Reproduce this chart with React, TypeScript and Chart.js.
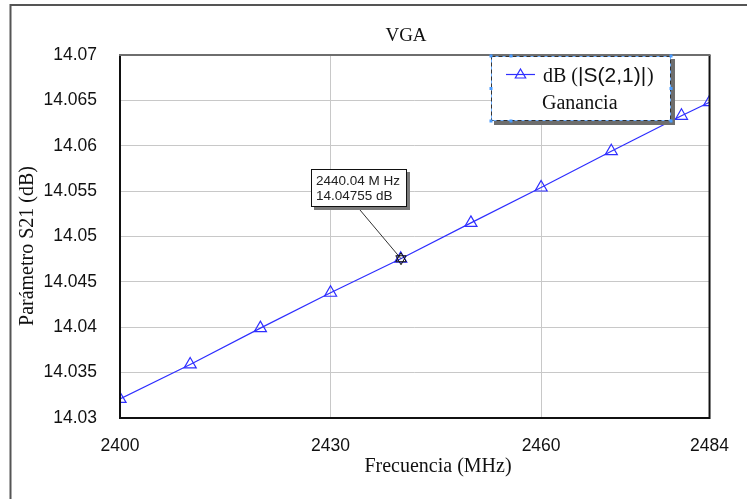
import React, { useEffect, useRef } from "react";
import { Chart, registerables } from "chart.js";

Chart.register(...registerables);

// ---- data ----
const frequencies = [2400, 2410, 2420, 2430, 2440, 2450, 2460, 2470, 2480, 2484];
const s21Values = [14.0321, 14.0359, 14.0399, 14.0438, 14.04755, 14.0515, 14.0554, 14.0594, 14.0633, 14.0648];
const xTickValues = [2400, 2430, 2460, 2484];
const yMin = 14.03;
const yMax = 14.07;
const yStep = 0.005;
const chartTitle = "VGA";
const xTitle = "Frecuencia (MHz)";
const yTitle = "Parámetro S21 (dB)";
const legendUnit = "dB (";
const legendMeasure = "|S(2,1)|";
const legendClose = ")";
const legendGraph = "Ganancia";
const markerFreq = 2440.04;
const markerValue = 14.04755;

const SERIF = "'Liberation Serif','Times New Roman',serif";
const SANS = "'Liberation Sans',Arial,sans-serif";
const TRACE = "#2f2fff";

function drawTriangle(ctx: CanvasRenderingContext2D, x: number, y: number, r: number) {
  ctx.beginPath();
  for (let i = 0; i < 3; i++) {
    const a = (i * 2 * Math.PI) / 3;
    const px = x + Math.sin(a) * r;
    const py = y - Math.cos(a) * r;
    if (i === 0) ctx.moveTo(px, py);
    else ctx.lineTo(px, py);
  }
  ctx.closePath();
  ctx.stroke();
}

const decorPlugin = {
  id: "decor",
  beforeDraw(chart: any) {
    const ctx = chart.ctx as CanvasRenderingContext2D;
    ctx.save();
    ctx.fillStyle = "#ffffff";
    ctx.fillRect(0, 0, chart.width, chart.height);
    ctx.restore();
  },
  afterDraw(chart: any) {
    const ctx = chart.ctx as CanvasRenderingContext2D;
    const { left, right, top, bottom } = chart.chartArea;
    const xs = chart.scales.x;
    const ys = chart.scales.y;
    ctx.save();

    // outer frame
    ctx.strokeStyle = "#555555";
    ctx.lineWidth = 2;
    ctx.beginPath();
    ctx.moveTo(10.5, chart.height + 2);
    ctx.lineTo(10.5, 5);
    ctx.lineTo(chart.width + 2, 5);
    ctx.stroke();

    // plot border
    ctx.strokeStyle = "#111111";
    ctx.lineWidth = 2;
    ctx.beginPath();
    ctx.moveTo(left, top);
    ctx.lineTo(left, bottom);
    ctx.lineTo(right, bottom);
    ctx.lineTo(right, top);
    ctx.stroke();
    ctx.strokeStyle = "#6e6e6e";
    ctx.beginPath();
    ctx.moveTo(left - 1, top);
    ctx.lineTo(right + 1, top);
    ctx.stroke();

    // titles
    ctx.fillStyle = "#111111";
    ctx.textAlign = "center";
    ctx.textBaseline = "alphabetic";
    ctx.font = `19px ${SERIF}`;
    ctx.fillText(chartTitle, 406, 41);
    ctx.font = `20px ${SERIF}`;
    ctx.fillText(xTitle, 438, 472);
    ctx.save();
    ctx.translate(33, 246);
    ctx.rotate(-Math.PI / 2);
    ctx.fillText(yTitle, 0, 0);
    ctx.restore();

    // legend box
    const lx = 491, ly = 56, lw = 180, lh = 65;
    ctx.fillStyle = "#6e6e6e";
    ctx.fillRect(lx + 3, ly + 3, lw + 1, lh + 1);
    ctx.fillStyle = "#ffffff";
    ctx.fillRect(lx, ly, lw, lh);
    ctx.lineWidth = 1;
    ctx.strokeStyle = "#6fb0ff";
    ctx.strokeRect(lx + 0.5, ly + 0.5, lw - 1, lh - 1);
    ctx.strokeStyle = "#333333";
    ctx.setLineDash([4, 3]);
    ctx.strokeRect(lx + 0.5, ly + 0.5, lw - 1, lh - 1);
    ctx.setLineDash([]);
    ctx.fillStyle = "#4a9cff";
    const handles = [
      [lx, ly], [lx + 20, ly], [lx + lw, ly],
      [lx, ly + lh / 2], [lx + lw, ly + lh / 2],
      [lx, ly + lh], [lx + 20, ly + lh], [lx + lw, ly + lh],
    ];
    handles.forEach(([hx, hy]) => ctx.fillRect(hx - 1.5, hy - 1.5, 3, 3));

    // legend content
    ctx.strokeStyle = TRACE;
    ctx.lineWidth = 1.2;
    ctx.beginPath();
    ctx.moveTo(506, 74.5);
    ctx.lineTo(535, 74.5);
    ctx.stroke();
    drawTriangle(ctx, 520.5, 75, 6);
    ctx.fillStyle = "#111111";
    ctx.textAlign = "left";
    ctx.font = `20px ${SERIF}`;
    let tx = 543;
    ctx.fillText(legendUnit, tx, 82);
    tx += ctx.measureText(legendUnit).width;
    ctx.font = `21px ${SANS}`;
    ctx.fillText(legendMeasure, tx, 82);
    tx += ctx.measureText(legendMeasure).width;
    ctx.font = `20px ${SERIF}`;
    ctx.fillText(legendClose, tx + 1, 82);
    ctx.fillText(legendGraph, 542, 109);

    // marker annotation
    const px = xs.getPixelForValue(markerFreq);
    const py = ys.getPixelForValue(markerValue);
    const bx = Math.round(px - 90), by = Math.round(py - 90), bw = 96, bh = 38;
    ctx.strokeStyle = "#333333";
    ctx.lineWidth = 1;
    ctx.beginPath();
    ctx.moveTo(px - 41, by + bh + 3);
    ctx.lineTo(px, py);
    ctx.stroke();
    ctx.fillStyle = "#7a7a7a";
    ctx.fillRect(bx + 3, by + 3, bw, bh);
    ctx.fillStyle = "#ffffff";
    ctx.fillRect(bx, by, bw, bh);
    ctx.strokeStyle = "#111111";
    ctx.strokeRect(bx + 0.5, by + 0.5, bw - 1, bh - 1);
    ctx.fillStyle = "#222222";
    ctx.font = `13.5px ${SANS}`;
    ctx.textBaseline = "middle";
    ctx.fillText(`${markerFreq.toFixed(2)} M Hz`, bx + 5, by + 12);
    ctx.fillText(`${markerValue.toFixed(5)} dB`, bx + 5, by + 27);
    // star marker
    ctx.strokeStyle = "#111111";
    ctx.beginPath();
    for (let k = 0; k < 2; k++) {
      for (let i = 0; i < 3; i++) {
        const a = (i * 2 * Math.PI) / 3 + k * Math.PI;
        const qx = px + Math.sin(a) * 6;
        const qy = py - Math.cos(a) * 6;
        if (i === 0) ctx.moveTo(qx, qy);
        else ctx.lineTo(qx, qy);
      }
      ctx.closePath();
    }
    ctx.stroke();

    ctx.restore();
  },
};

export default function App() {
  const canvasRef = useRef<HTMLCanvasElement | null>(null);

  useEffect(() => {
    const canvas = canvasRef.current;
    if (!canvas) return;
    const chart = new Chart(canvas, {
      type: "line",
      data: {
        datasets: [
          {
            label: legendMeasure,
            data: frequencies.map((f, i) => ({ x: f, y: s21Values[i] })),
            borderColor: TRACE,
            borderWidth: 1.2,
            pointStyle: "triangle",
            pointRadius: 7,
            pointBorderColor: TRACE,
            pointBackgroundColor: "rgba(0,0,0,0)",
            pointBorderWidth: 1.2,
            tension: 0,
            clip: 0,
          } as any,
        ],
      },
      options: {
        animation: false,
        responsive: false,
        devicePixelRatio: 1,
        layout: { padding: { left: 0, top: 55, right: 36, bottom: 0 } },
        plugins: {
          legend: { display: false },
          title: { display: false },
          tooltip: { enabled: false },
        },
        scales: {
          x: {
            type: "linear",
            min: frequencies[0],
            max: xTickValues[xTickValues.length - 1],
            afterBuildTicks: (scale: any) => {
              scale.ticks = xTickValues.map((v) => ({ value: v }));
            },
            afterFit: (scale: any) => {
              scale.height = 81;
            },
            grid: { color: "#c8c8c8", lineWidth: 1, drawTicks: false },
            border: { display: false },
            ticks: {
              autoSkip: false,
              maxRotation: 0,
              padding: 18,
              color: "#111111",
              font: { family: SANS, size: 17.5 },
              callback: (v: any) => String(v),
            },
          },
          y: {
            type: "linear",
            min: yMin,
            max: yMax,
            afterFit: (scale: any) => {
              scale.width = 120;
            },
            grid: { color: "#c8c8c8", lineWidth: 1, drawTicks: false },
            border: { display: false },
            ticks: {
              stepSize: yStep,
              padding: 23,
              color: "#111111",
              font: { family: SANS, size: 17.5 },
              callback: (v: any) => String(Number(Number(v).toFixed(3))),
            },
          },
        },
      },
      plugins: [decorPlugin],
    });
    return () => chart.destroy();
  }, []);

  return (
    <div style={{ position: "absolute", left: 0, top: 0, width: 747, height: 499 }}>
      <canvas ref={canvasRef} width={747} height={499} style={{ display: "block" }} />
    </div>
  );
}
